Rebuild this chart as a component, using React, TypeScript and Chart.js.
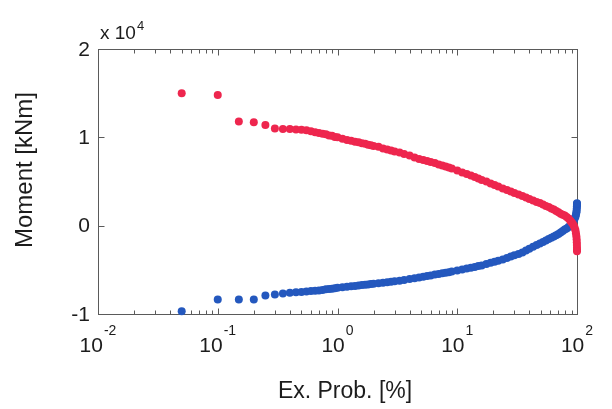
import { useEffect, useRef } from 'react';
import { Chart, registerables } from 'chart.js';

Chart.register(...registerables);

// Exceedance probability [%]
const exProb = [
  0.05, 0.1, 0.15, 0.2, 0.25, 0.3, 0.35, 0.4, 0.45, 0.5,
  0.55, 0.6, 0.65, 0.7, 0.75, 0.8, 0.85, 0.9, 0.95, 1.0,
  1.1, 1.2, 1.3, 1.4, 1.5, 1.6, 1.7, 1.8, 1.9, 2.0,
  2.2, 2.4, 2.6, 2.8, 3.0, 3.3, 3.6, 4.0, 4.4, 4.8,
  5.2, 5.6, 6.0, 6.5, 7.0, 7.5, 8.0, 8.5, 9.0, 10,
  11, 12, 13, 14, 15, 16, 17.5, 19, 20.5, 22,
  24, 26, 28, 30, 32.5, 35, 37.5, 40, 43, 46,
  49, 52, 55, 58, 61, 64, 67, 70, 73, 76,
  79, 82, 85, 88, 90, 92, 94, 95.5, 97, 98,
  98.8, 99.3, 99.6, 99.8, 99.9, 99.95, 100,
];

// Maximum moment [kNm]
const momentMax = [
  15000, 14800, 11800, 11700, 11400, 11000, 10950, 10950, 10900, 10850,
  10800, 10680, 10570, 10500, 10400, 10340, 10220, 10170, 10050, 10000,
  9830, 9710, 9600, 9490, 9430, 9320, 9260, 9150, 9090, 9030,
  8920, 8750, 8630, 8520, 8400, 8290, 8120, 7950, 7720, 7550,
  7440, 7330, 7210, 7100, 6930, 6820, 6700, 6590, 6480, 6250,
  6020, 5850, 5680, 5510, 5340, 5170, 5000, 4770, 4600, 4430,
  4200, 4030, 3860, 3690, 3520, 3350, 3180, 3010, 2840, 2670,
  2560, 2390, 2220, 2100, 1930, 1820, 1650, 1530, 1360, 1250,
  1140, 970, 800, 570, 400, 230, 0, -230, -510, -850,
  -1190, -1530, -1870, -2200, -2500, -2730, -2900,
];

// Minimum moment [kNm]
const momentMin = [
  -9700, -8350, -8350, -8350, -7900, -7780, -7670, -7590, -7550, -7500,
  -7440, -7410, -7360, -7330, -7270, -7210, -7180, -7130, -7080, -7020,
  -6960, -6910, -6870, -6830, -6780, -6730, -6680, -6650, -6590, -6570,
  -6510, -6450, -6400, -6340, -6290, -6230, -6160, -6050, -5950, -5860,
  -5780, -5700, -5630, -5540, -5460, -5400, -5330, -5270, -5200, -5080,
  -4960, -4850, -4760, -4670, -4580, -4500, -4350, -4210, -4090, -3980,
  -3820, -3650, -3500, -3360, -3200, -3030, -2810, -2610, -2400, -2200,
  -2020, -1850, -1670, -1510, -1360, -1230, -1090, -940, -770, -600,
  -440, -310, -150, 60, 190, 340, 570, 800, 1020, 1250,
  1480, 1700, 1930, 2160, 2330, 2440, 2550,
];

const xTickValues = [0.01, 0.1, 1, 10, 100];
const xTickExponents = ['-2', '-1', '0', '1', '2'];
const yTickValues = [-10000, 0, 10000, 20000];
const yTickLabels = ['-1', '0', '1', '2'];
const xTitle = 'Ex. Prob. [%]';
const yTitle = 'Moment [kNm]';
const yMultiplier = 'x 10';
const yMultiplierExp = '4';

const RED = 'rgb(238, 38, 78)';
const BLUE = 'rgb(36, 88, 190)';
const FONT = "'Liberation Sans', Arial, sans-serif";
const TEXT = '#1c1c1c';
const AXIS = '#5a5a5a';

const framePlugin = {
  id: 'matlabFrame',
  beforeDatasetsDraw(chart: any) {
    const { ctx, chartArea: a, scales } = chart;
    const xs = scales.x;
    const ys = scales.y;
    const L = Math.round(a.left) + 0.5;
    const R = Math.round(a.right) + 0.5;
    const T = Math.round(a.top) + 0.5;
    const B = Math.round(a.bottom) + 0.5;
    ctx.save();
    ctx.strokeStyle = AXIS;
    ctx.lineWidth = 1;
    ctx.strokeRect(L, T, R - L, B - T);

    ctx.beginPath();
    for (let d = 0; d < xTickValues.length - 1; d++) {
      for (let m = 1; m <= 9; m++) {
        const v = xTickValues[d] * m;
        const px = Math.round(xs.getPixelForValue(v)) + 0.5;
        const len = m === 1 ? 6 : 4;
        ctx.moveTo(px, B);
        ctx.lineTo(px, B - len);
        ctx.moveTo(px, T);
        ctx.lineTo(px, T + len);
      }
    }
    for (const v of yTickValues) {
      const py = Math.round(ys.getPixelForValue(v)) + 0.5;
      ctx.moveTo(L, py);
      ctx.lineTo(L + 6, py);
      ctx.moveTo(R, py);
      ctx.lineTo(R - 6, py);
    }
    ctx.stroke();

    ctx.fillStyle = TEXT;
    // y tick labels
    ctx.font = `21px ${FONT}`;
    ctx.textAlign = 'right';
    ctx.textBaseline = 'middle';
    yTickValues.forEach((v, i) => {
      ctx.fillText(yTickLabels[i], a.left - 8, ys.getPixelForValue(v) + 1);
    });

    // x tick labels with superscript exponent
    ctx.textBaseline = 'alphabetic';
    ctx.textAlign = 'left';
    xTickValues.forEach((v, i) => {
      const px = xs.getPixelForValue(v);
      ctx.font = `21px ${FONT}`;
      const wBase = ctx.measureText('10').width;
      ctx.font = `14px ${FONT}`;
      const wExp = ctx.measureText(xTickExponents[i]).width;
      const start = px - (wBase + 1 + wExp) / 2;
      ctx.font = `21px ${FONT}`;
      ctx.fillText('10', start, 352);
      ctx.font = `14px ${FONT}`;
      ctx.fillText(xTickExponents[i], start + wBase + 1, 335);
    });

    // multiplier
    ctx.font = `19px ${FONT}`;
    ctx.fillText(yMultiplier, a.left + 2, 39);
    const wm = ctx.measureText(yMultiplier).width;
    ctx.font = `13px ${FONT}`;
    ctx.fillText(yMultiplierExp, a.left + 2 + wm + 1, 30);

    // axis titles
    ctx.font = `23px ${FONT}`;
    ctx.textAlign = 'center';
    ctx.textBaseline = 'middle';
    ctx.fillText(xTitle, 345, 392);
    ctx.font = `24px ${FONT}`;
    ctx.save();
    ctx.translate(25, 170);
    ctx.rotate(-Math.PI / 2);
    ctx.fillText(yTitle, 0, 0);
    ctx.restore();

    ctx.restore();
  },
};

export default function App() {
  const canvasRef = useRef<HTMLCanvasElement | null>(null);

  useEffect(() => {
    const canvas = canvasRef.current;
    if (!canvas) return;
    const chart = new Chart(canvas, {
      type: 'scatter',
      data: {
        datasets: [
          {
            label: 'max',
            data: exProb.map((p, i) => ({ x: p, y: momentMax[i] })),
            pointRadius: 4,
            pointBackgroundColor: RED,
            pointBorderWidth: 0,
            borderWidth: 0,
            showLine: false,
            clip: false,
          },
          {
            label: 'min',
            data: exProb.map((p, i) => ({ x: p, y: momentMin[i] })),
            pointRadius: 4,
            pointBackgroundColor: BLUE,
            pointBorderWidth: 0,
            borderWidth: 0,
            showLine: false,
            clip: false,
          },
        ],
      },
      options: {
        responsive: false,
        animation: false,
        devicePixelRatio: 1,
        layout: { padding: { left: 98, top: 49, right: 35, bottom: 95 } },
        plugins: {
          legend: { display: false },
          tooltip: { enabled: false },
        },
        scales: {
          x: { type: 'logarithmic', min: 0.01, max: 100, display: false },
          y: { type: 'linear', min: -10000, max: 20000, display: false },
        },
      },
      plugins: [framePlugin],
    });
    return () => chart.destroy();
  }, []);

  return (
    <div style={{ position: 'absolute', left: 0, top: 0, width: 612, height: 409, background: '#fff' }}>
      <canvas ref={canvasRef} width={612} height={409} />
    </div>
  );
}
